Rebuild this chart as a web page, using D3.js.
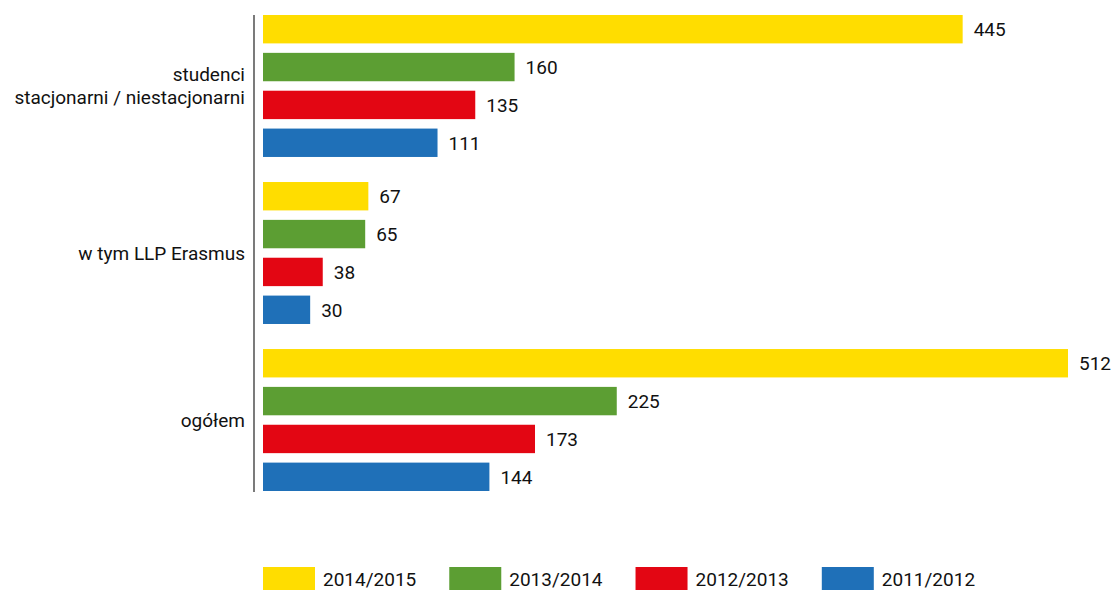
<!DOCTYPE html>
<html>
<head>
<meta charset="utf-8">
<script src="https://cdn.jsdelivr.net/npm/d3@7"></script>
<style>
  body { margin: 0; background: #fff; }
  svg text { font-family: Roboto, "Liberation Sans", sans-serif; fill: #111; }
</style>
</head>
<body>
<svg id="chart" width="1113" height="590"></svg>
<script>
// categories (top to bottom) and series
var categories = ["studenci\nstacjonarni / niestacjonarni", "w tym LLP Erasmus", "ogółem"];
var seriesNames = ["2014/2015", "2013/2014", "2012/2013", "2011/2012"];
var colors = ["#FFDD00", "#5C9E33", "#E30613", "#1F70B8"];

// values per series, in category order
var s2014 = [445, 67, 512];
var s2013 = [160, 65, 225];
var s2012 = [135, 38, 173];
var s2011 = [111, 30, 144];
var seriesValues = [s2014, s2013, s2012, s2011];

var svg = d3.select("#chart");

var axisX = 254;
var x = d3.scaleLinear().domain([0, 512]).range([263, 1068]);

var y0 = d3.scaleBand().domain(categories).range([15, 491]).paddingInner(0.15);
var y1 = d3.scaleBand().domain(seriesNames).range([0, y0.bandwidth()]).paddingInner(0.25);

// vertical axis line
svg.append("line")
    .attr("x1", axisX).attr("x2", axisX)
    .attr("y1", 15).attr("y2", 492)
    .attr("stroke", "#222").attr("stroke-width", 1.2);

// category labels
categories.forEach(function (cat) {
    var lines = cat.split("\n");
    var cy = y0(cat) + y0.bandwidth() / 2;
    var t = svg.append("text")
        .attr("text-anchor", "end")
        .attr("font-size", 19)
        .attr("x", 245);
    lines.forEach(function (ln, i) {
        t.append("tspan")
            .attr("x", 245)
            .attr("y", cy + (i - (lines.length - 1) / 2) * 23)
            .attr("dy", "0.35em")
            .text(ln);
    });
});

// bars
var rows = [];
categories.forEach(function (cat, ci) {
    seriesNames.forEach(function (s, si) {
        rows.push({ cat: cat, series: s, value: seriesValues[si][ci], color: colors[si] });
    });
});

svg.selectAll("rect.bar")
    .data(rows)
    .enter().append("rect")
    .attr("class", "bar")
    .attr("x", x(0))
    .attr("y", d => y0(d.cat) + y1(d.series))
    .attr("width", d => x(d.value) - x(0))
    .attr("height", y1.bandwidth())
    .attr("fill", d => d.color);

svg.selectAll("text.val")
    .data(rows)
    .enter().append("text")
    .attr("class", "val")
    .attr("x", d => x(d.value) + 11)
    .attr("y", d => y0(d.cat) + y1(d.series) + y1.bandwidth() / 2)
    .attr("dy", "0.36em")
    .attr("font-size", 19)
    .text(d => d.value);

// legend
var lx = 263;
seriesNames.forEach(function (s, i) {
    var g = svg.append("g").attr("transform", "translate(" + lx + ",567)");
    g.append("rect").attr("width", 52).attr("height", 23).attr("fill", colors[i]);
    var t = g.append("text")
        .attr("x", 60).attr("y", 12)
        .attr("dy", "0.36em")
        .attr("font-size", 19)
        .text(s);
    lx += 60 + t.node().getComputedTextLength() + 33;
});
</script>
</body>
</html>
